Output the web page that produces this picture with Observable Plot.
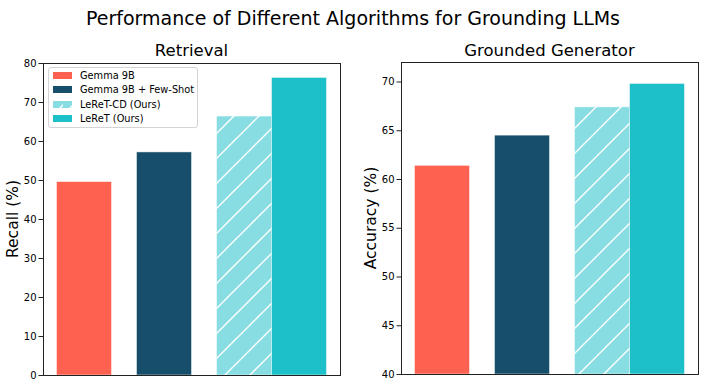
<!DOCTYPE html>
<html><head><meta charset="utf-8">
<script src="https://cdn.jsdelivr.net/npm/d3@7"></script>
<script src="https://cdn.jsdelivr.net/npm/@observablehq/plot@0.6"></script>
<style>
body{margin:0;background:#fff;font-family:"DejaVu Sans",sans-serif;}
#root{position:relative;width:706px;height:388px;overflow:hidden;background:#fff}
.abs{position:absolute;white-space:nowrap;color:#000}
#legend{position:absolute;left:48px;top:67px;width:148px;height:59px;border:1px solid #d4d4d4;border-radius:3px;background:rgba(255,255,255,0.85);font-size:9.8px}
.lrow{position:absolute;left:0;height:14px;display:flex;align-items:center}
.lrow svg{margin-left:4px;margin-right:8px}
</style></head><body>
<svg width="0" height="0" style="position:absolute">
  <defs>
    <pattern id="hatch" patternUnits="userSpaceOnUse" width="25" height="25">
      <path d="M-2,27 L27,-2 M-27,27 L2,-2 M23,27 L52,-2" stroke="#fff" stroke-width="1.4"/>
    </pattern>
    <pattern id="hatchSmall" patternUnits="userSpaceOnUse" width="10" height="10">
      <path d="M2,12 L14,0" stroke="#fff" stroke-width="1.3"/>
    </pattern>
  </defs>
</svg>
<div id="root"></div>
<script>
// ---- data ----
const methods = ["Gemma 9B", "Gemma 9B + Few-Shot", "LeReT-CD (Ours)", "LeReT (Ours)"];
const recall = [49.6, 57.2, 66.4, 76.3];
const accuracy = [61.4, 64.5, 67.4, 69.8];
const recallTicks = [0, 10, 20, 30, 40, 50, 60, 70, 80];
const accuracyTicks = [40, 45, 50, 55, 60, 65, 70];
const colors = ["#FF6150", "#164E6B", "#88DDE2", "#1DBFC8"];
const hatched = [false, false, true, false];
const mainTitle = "Performance of Different Algorithms for Grounding LLMs";
const panelTitles = ["Retrieval", "Grounded Generator"];
const yLabels = ["Recall (%)", "Accuracy (%)"];

// ---- layout ----
const W = 0.6875;
const center = i => (i < 3 ? i : 2 + W);
const lo = -W / 2, hi = 2 + 1.5 * W, span = hi - lo;
const xDomain = [lo - 0.05 * span, hi + 0.05 * span];

const root = document.getElementById("root");

function panel(values, yDomain, ticks, opts) {
  const rows = methods.map((m, i) => ({
    method: m, value: values[i], color: colors[i], hatch: hatched[i],
    x1: center(i) - W / 2, x2: center(i) + W / 2
  }));
  const chart = Plot.plot({
    width: 353, height: 388,
    marginLeft: opts.ml, marginRight: opts.mr, marginTop: opts.mt, marginBottom: opts.mb,
    x: {domain: xDomain, axis: null},
    y: {domain: yDomain, axis: null},
    color: {type: "identity"},
    style: {fontFamily: "DejaVu Sans", fontSize: "10px", color: "#000", background: "transparent"},
    marks: [
      Plot.rectY(rows, {x1: "x1", x2: "x2", y1: yDomain[0], y2: "value", fill: "color", stroke: "#ffffff", strokeWidth: 0.8, strokeOpacity: 0.6}),
      Plot.rectY(rows.filter(d => d.hatch), {x1: "x1", x2: "x2", y1: yDomain[0], y2: "value", fill: "url(#hatch)"}),
      Plot.axisY({ticks, tickSize: 4.5, tickPadding: 2.5, label: null, fontSize: 10, stroke: "#222"}),
      Plot.frame({stroke: "#222", strokeWidth: 1})
    ]
  });
  chart.style.position = "absolute";
  chart.style.left = opts.left + "px";
  chart.style.top = "0px";
  return chart;
}

root.appendChild(panel(recall, [0, 80], recallTicks, {left: 0, ml: 43, mr: 13, mt: 63, mb: 13}));
root.appendChild(panel(accuracy, [40, 72], accuracyTicks, {left: 353, ml: 48, mr: 8, mt: 62, mb: 14}));

function addText(txt, x, y, size, rotate) {
  const d = document.createElement("div");
  d.className = "abs";
  d.textContent = txt;
  d.style.fontSize = size + "px";
  d.style.left = x + "px";
  d.style.top = y + "px";
  d.style.lineHeight = "1";
  d.style.transform = "translate(-50%,-50%)" + (rotate ? " rotate(-90deg)" : "");
  root.appendChild(d);
}
addText(mainTitle, 353, 18, 19);
addText(panelTitles[0], 191.5, 51, 16.5);
addText(panelTitles[1], 549.5, 51, 16.5);
addText(yLabels[0], 14, 219, 15.5, true);
addText(yLabels[1], 372, 218, 15.5, true);

// legend
const lg = document.createElement("div");
lg.id = "legend";
methods.forEach((m, i) => {
  const r = document.createElement("div");
  r.className = "lrow";
  r.style.top = (0 + i * 14.5) + "px";
  r.innerHTML = `<svg width="19" height="7"><rect width="19" height="7" fill="${colors[i]}"/>${hatched[i] ? '<rect width="19" height="7" fill="url(#hatchSmall)"/>' : ''}</svg><span></span>`;
  r.querySelector("span").textContent = m;
  lg.appendChild(r);
});
root.appendChild(lg);
</script>
</body></html>
